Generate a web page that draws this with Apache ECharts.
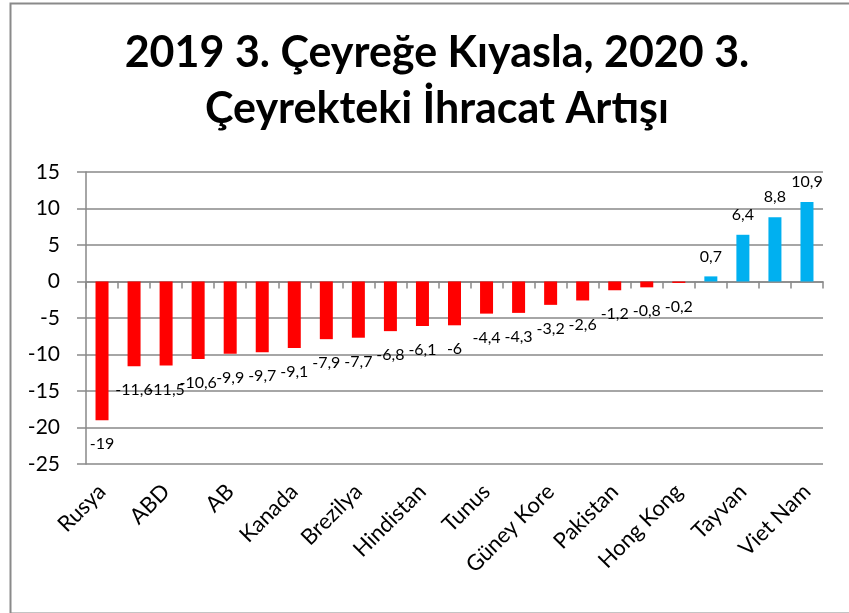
<!DOCTYPE html>
<html>
<head>
<meta charset="utf-8">
<script src="https://cdn.jsdelivr.net/npm/echarts@6/dist/echarts.min.js"></script>
<style>html,body{margin:0;padding:0;background:#fff;}#c{width:849px;height:613px;}</style>
</head>
<body>
<div id="c"></div>
<script>
const titleText = '2019 3. Çeyreğe Kıyasla, 2020 3.\nÇeyrekteki İhracat Artışı';
const categories = ['Rusya','','ABD','','AB','','Kanada','','Brezilya','','Hindistan','','Tunus','','Güney Kore','','Pakistan','','Hong Kong','','Tayvan','','Viet Nam'];
const values = [-19,-11.6,-11.5,-10.6,-9.9,-9.7,-9.1,-7.9,-7.7,-6.8,-6.1,-6,-4.4,-4.3,-3.2,-2.6,-1.2,-0.8,-0.2,0.7,6.4,8.8,10.9];
const yMin = -25, yMax = 15, yStep = 5;

const FONT = 'Lato';
const GRAY = '#898989';
const RED = '#FF0000';
const BLUE = '#00B0F0';

const barData = values.map(v => ({
  value: v,
  itemStyle: { color: v < 0 ? RED : BLUE },
  label: v < 0 ? { position: 'bottom', distance: 16 } : { position: 'top', distance: 12 }
}));

const chart = echarts.init(document.getElementById('c'));
chart.setOption({
  animation: false,
  backgroundColor: '#fff',
  title: {
    text: titleText,
    left: 432, textAlign: 'center',
    top: 20,
    textStyle: { fontFamily: FONT, fontWeight: 'bold', fontSize: 43, lineHeight: 56, color: '#000' }
  },
  graphic: [{
    type: 'rect', left: 8, top: 1,
    shape: { width: 860, height: 610 },
    style: { fill: 'none', stroke: '#8a8a8a', lineWidth: 2 },
    silent: true
  }],
  grid: { left: 86, right: 26, top: 172, bottom: 149, containLabel: false },
  xAxis: [{
    type: 'category', data: categories,
    axisLine: { onZero: true, lineStyle: { color: GRAY, width: 1.5 } },
    axisTick: { show: true, alignWithLabel: false, interval: 0, length: 7, lineStyle: { color: GRAY, width: 1.5 } },
    axisLabel: { show: false }
  }, {
    type: 'category', data: categories, position: 'bottom',
    axisLine: { show: false, onZero: false },
    axisTick: { show: false },
    axisLabel: { interval: 0, rotate: 45, margin: 24, fontFamily: FONT, fontSize: 22, color: '#000' }
  }],
  yAxis: {
    type: 'value', min: yMin, max: yMax, interval: yStep,
    axisLine: { show: true, lineStyle: { color: GRAY, width: 1.5 } },
    axisTick: { show: true, length: 9, lineStyle: { color: GRAY, width: 1.5 } },
    splitLine: { lineStyle: { color: GRAY, width: 1.5 } },
    axisLabel: { margin: 26, fontFamily: FONT, fontSize: 21, color: '#000' }
  },
  series: [{
    type: 'bar', xAxisIndex: 0, data: barData,
    barWidth: 13,
    label: {
      show: true, fontFamily: FONT, fontSize: 16, color: '#000',
      formatter: p => String(p.value).replace('.', ',')
    }
  }]
});
</script>
</body>
</html>
